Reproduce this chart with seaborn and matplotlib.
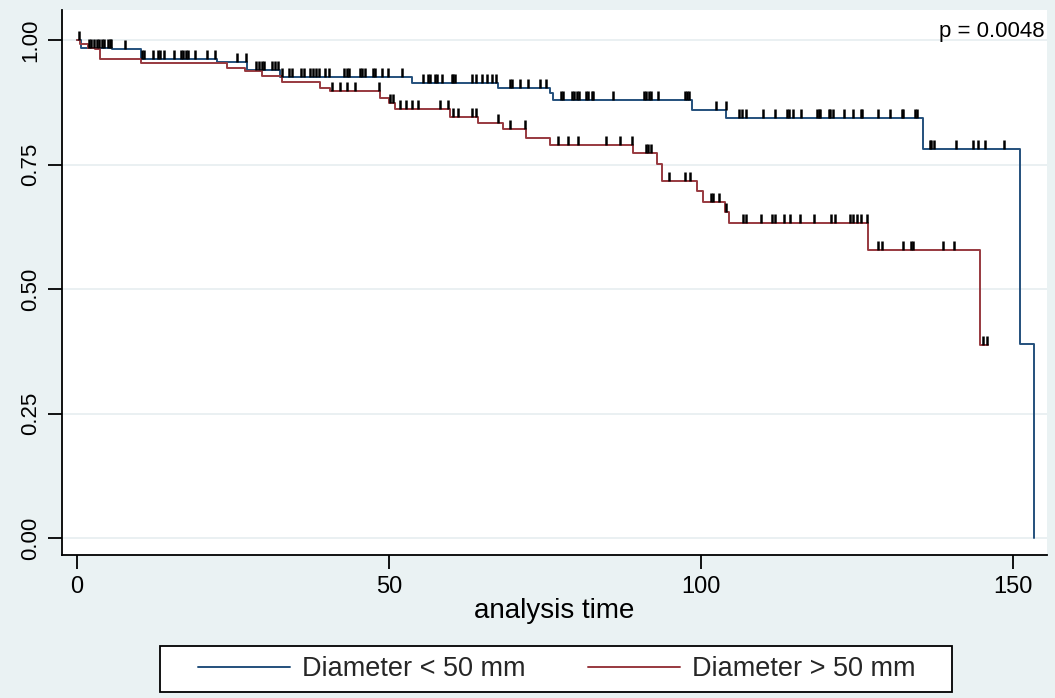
import numpy as np
import pandas as pd
import matplotlib
matplotlib.use("Agg")
import matplotlib.pyplot as plt
import seaborn as sns
from matplotlib.path import Path
from matplotlib.lines import Line2D
from matplotlib.patches import Rectangle

# ---------------- data ----------------
groups = ["Diameter < 50 mm", "Diameter > 50 mm"]

small_time = [0, 0.6, 5.6, 10.3, 22.4, 27.2, 32.5, 53.6, 67.4, 75.8, 76.2,
              98.6, 104.0, 135.6, 151.0, 153.3]
small_surv = [1.0, 0.985, 0.982, 0.962, 0.956, 0.940, 0.927, 0.915, 0.905,
              0.895, 0.880, 0.861, 0.845, 0.781, 0.390, 0.0]

large_time = [0, 0.5, 1.8, 2.9, 3.7, 10.3, 24.0, 26.9, 29.6, 32.8, 38.9,
              40.5, 48.6, 50.0, 51.0, 59.8, 64.2, 68.2, 71.9, 75.8, 89.0,
              93.0, 93.7, 99.3, 100.3, 103.8, 104.4, 126.8, 144.6, 145.9]
large_surv = [1.0, 0.992, 0.985, 0.982, 0.962, 0.955, 0.945, 0.938, 0.928,
              0.916, 0.905, 0.898, 0.885, 0.875, 0.863, 0.847, 0.833, 0.821,
              0.803, 0.789, 0.774, 0.751, 0.717, 0.697, 0.676, 0.655, 0.633,
              0.578, 0.388, 0.388]

small_censor = [0.3, 1.9, 2.2, 2.7, 3.2, 3.6, 4.0, 4.4, 4.9, 5.3, 5.5, 7.7,
                10.4, 10.7, 12.2, 12.9, 13.3, 14.0, 15.6, 16.7, 17.0, 17.4,
                17.8, 18.9, 20.8, 22.1, 25.7, 27.0, 28.7, 29.2, 29.6, 30.0,
                31.2, 31.8, 32.2, 32.8, 34.0, 34.4, 35.9, 36.3, 37.3, 37.8,
                38.3, 38.7, 39.7, 40.3, 42.7, 43.2, 43.6, 45.4, 45.7, 46.2,
                47.5, 47.8, 48.8, 49.9, 52.0, 55.5, 56.3, 56.6, 57.4, 57.7,
                58.4, 60.0, 60.3, 60.6, 63.3, 63.9, 64.9, 65.7, 66.5, 67.2,
                69.4, 69.7, 70.9, 72.2, 74.2, 75.2, 77.6, 77.8, 79.3, 79.6,
                80.1, 80.4, 81.6, 81.8, 82.5, 82.6, 85.8, 90.8, 91.2, 91.6,
                92.0, 93.1, 97.4, 97.7, 98.0, 102.3, 103.9, 106.1, 106.5,
                107.2, 109.9, 111.9, 113.7, 114.0, 114.7, 116.0, 118.5, 118.8,
                119.1, 120.4, 120.7, 121.1, 122.9, 124.3, 125.6, 125.7, 128.4,
                130.2, 132.2, 132.3, 134.3, 134.5, 136.6, 136.8, 137.3, 140.9,
                143.5, 144.3, 145.5, 148.5]

large_censor = [40.8, 42.1, 43.3, 44.6, 48.4, 50.2, 50.7, 51.7, 52.7, 53.6,
                54.7, 58.1, 59.5, 60.3, 61.1, 63.3, 63.9, 67.4, 69.4, 71.8,
                77.1, 78.6, 80.3, 84.7, 87.0, 88.9, 91.1, 91.4, 91.9, 94.9,
                97.4, 98.2, 101.5, 101.9, 102.9, 104.0, 106.7, 107.2, 109.6,
                111.3, 111.9, 113.3, 114.2, 115.9, 118.0, 120.8, 121.5, 123.8,
                124.4, 124.9, 125.6, 126.6, 128.4, 129.0, 132.4, 133.6, 133.9,
                138.8, 140.5, 145.2, 145.8]

x_ticks = [0, 50, 100, 150]
y_ticks = [0.00, 0.25, 0.50, 0.75, 1.00]
y_ticklabels = ["0.00", "0.25", "0.50", "0.75", "1.00"]
x_label = "analysis time"
p_text = "p = 0.0048"
colors = ["#24507c", "#98393f"]

# ---------------- styling ----------------
sns.set_theme(style="white")
plt.rcParams['font.family'] = ['Liberation Sans', 'DejaVu Sans']

W, H = 1055, 698
fig = plt.figure(figsize=(W / 100, H / 100), dpi=100, facecolor="#eaf2f3")
ax = fig.add_axes([62 / W, (H - 555) / H, (1047 - 62) / W, (555 - 10) / H])
ax.set_facecolor("white")

df = pd.concat([
    pd.DataFrame({"time": small_time, "surv": small_surv, "group": groups[0]}),
    pd.DataFrame({"time": large_time, "surv": large_surv, "group": groups[1]}),
], ignore_index=True)

sns.lineplot(data=df, x="time", y="surv", hue="group", hue_order=groups,
             palette=colors, drawstyle="steps-post", estimator=None,
             linewidth=1.4, legend=False, ax=ax, zorder=3)


def step_value(times, survs, t):
    idx = np.searchsorted(np.asarray(times), t, side="right") - 1
    return np.asarray(survs)[idx]


tick_marker = Path([(0, 0), (0, 1)], [Path.MOVETO, Path.LINETO])
for times, survs, cens in [(small_time, small_surv, small_censor),
                           (large_time, large_surv, large_censor)]:
    cy = step_value(times, survs, np.asarray(cens))
    ax.plot(cens, cy, linestyle="none", marker=tick_marker, markersize=13,
            markeredgewidth=1.8, color="black", zorder=4)

ax.set_xlim(-2.4, 155.4)
ax.set_ylim(-0.034, 1.061)
ax.set_xticks(x_ticks)
ax.set_xticklabels([str(v) for v in x_ticks])
ax.set_yticks(y_ticks)
ax.set_yticklabels(y_ticklabels, rotation=90, va="center")

ax.yaxis.grid(True, color="#e6eef0", linewidth=1.2)
ax.xaxis.grid(False)
ax.set_axisbelow(True)

for s in ["top", "right"]:
    ax.spines[s].set_visible(False)
for s in ["left", "bottom"]:
    ax.spines[s].set_color("black")
    ax.spines[s].set_linewidth(1.3)

ax.tick_params(axis="both", direction="out", length=10, width=1.3,
               color="black", labelsize=17, labelcolor="black",
               bottom=True, left=True)
ax.tick_params(axis="y", labelsize=16, pad=5)
ax.tick_params(axis="x", pad=5)

ax.set_xlabel(x_label, fontsize=20, color="black", labelpad=0)
ax.set_ylabel("")

fig.text(1045 / W, 1 - 32 / H, p_text, ha="right", va="center",
         fontsize=16, color="black")

# legend box
fig.patches.append(Rectangle((160 / W, 1 - 692 / H), 792 / W, 46 / H,
                             transform=fig.transFigure, facecolor="white",
                             edgecolor="black", linewidth=1.3, zorder=1))
handles = [Line2D([], [], color=c, linewidth=1.4) for c in colors]
fig.legend(handles, groups, loc="center", ncol=2,
           bbox_to_anchor=(557 / W, 1 - 669 / H), frameon=False,
           fontsize=19.5, handlelength=3.4, handletextpad=0.45,
           columnspacing=2.3)

fig.savefig("out.png", dpi=100, facecolor=fig.get_facecolor())
